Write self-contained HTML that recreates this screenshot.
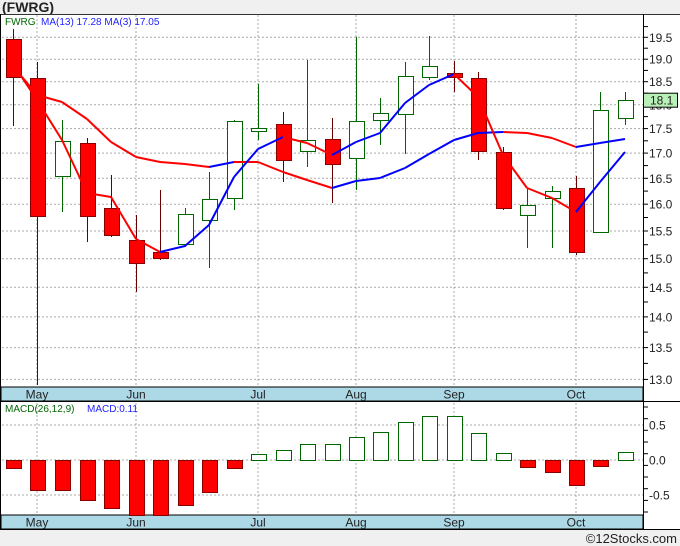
<!DOCTYPE html>
<html><head><meta charset="utf-8"><style>
html,body{margin:0;padding:0;background:#fff;}
svg{display:block;font-family:"Liberation Sans",sans-serif;}
</style></head><body>
<svg id="s" width="680" height="546" xmlns="http://www.w3.org/2000/svg">
<rect x="0" y="0" width="680" height="546" fill="#fff"/>
<rect x="0" y="0" width="680" height="14" fill="#f0f0f0"/>
<text x="2" y="12" font-size="14" font-weight="bold" fill="#222">(FWRG)</text>
<line x1="0" y1="14.5" x2="680" y2="14.5" stroke="#333"/>
<g id="g"></g>
<rect x="0" y="530" width="680" height="16" fill="#f0f0f0"/>
<text x="677" y="543" font-size="13" text-anchor="end" fill="#222">©12Stocks.com</text>
</svg>
<script>
var g=document.getElementById('g'),h='';
function Y(p){return 37.3+843.8*Math.log(19.5/p);}
var M=[37,136,258,356,454,576],MN=['May','Jun','Jul','Aug','Sep','Oct'];
// price grid
for(var p=13;p<=19.51;p+=0.5){var y=Y(p).toFixed(1);h+='<line x1="2" y1="'+y+'" x2="643" y2="'+y+'" stroke="#aaa" stroke-dasharray="2,2"/>';
h+='<text x="649" y="'+(+y+4.5)+'" font-size="12" fill="#222">'+p.toFixed(1)+'</text>';}
for(var p=13;p<=19.76;p+=0.25){var y=Y(p).toFixed(1);h+='<line x1="643" y1="'+y+'" x2="648" y2="'+y+'" stroke="#000"/>';}
// macd grid
[425,460,495].forEach(function(y,i){h+='<line x1="2" y1="'+y+'" x2="643" y2="'+y+'" stroke="#aaa" stroke-dasharray="2,2"/>';
h+='<text x="649" y="'+(y+4.5)+'" font-size="12" fill="#222">'+['0.5','0.0','-0.5'][i]+'</text>';});
for(var y=407;y<515;y+=11.67){h+='<line x1="643" y1="'+y.toFixed(1)+'" x2="648" y2="'+y.toFixed(1)+'" stroke="#000"/>';}
M.forEach(function(x){h+='<line x1="'+x+'" y1="15" x2="'+x+'" y2="528" stroke="#aaa" stroke-dasharray="2,2"/>';});
// strips
h+='<rect x="1" y="387" width="642" height="14" fill="#add8e6" stroke="#000"/>';
h+='<rect x="1" y="515" width="642" height="14" fill="#add8e6" stroke="#000"/>';
M.forEach(function(x,i){h+='<text x="'+x+'" y="398.5" font-size="12" text-anchor="middle" fill="#222">'+MN[i]+'</text><text x="'+x+'" y="526.5" font-size="12" text-anchor="middle" fill="#222">'+MN[i]+'</text>';});
var X=[13,37,62,87,111,136,160,185,209,234,258,283,307,332,356,380,405,429,454,478,503,527,552,576,600,625];
var C=[[0,39,77,29,126],[0,78,216,62,385],[1,141,176,120,212],[0,143,216,138,242],[0,208,235,175,237],[0,240,263,215,292],[0,252,258,190,260],[1,214,244,208,247],[1,199,220,172,268],[1,121,198,120,210],[1,128,131,84,140],[0,124,160,112,182],[1,140,151,60,167],[0,139,164,118,203],[1,121,158,37,190],[1,113,120,98,145],[1,76,114,62,154],[1,66,77,36,80],[0,73,77,61,92],[0,78,151,72,160],[0,152,208,147,210],[1,205,215,189,248],[1,191,198,186,248],[0,188,252,176,255],[1,110,232,92,232],[1,100,118,92,125]];
C.forEach(function(c,i){var x=X[i],col=c[0]?'#060':'#600';
h+='<line x1="'+(x+.5)+'" y1="'+c[3]+'" x2="'+(x+.5)+'" y2="'+Math.min(c[4],386)+'" stroke="'+col+'"/>';
h+='<rect x="'+(x-7)+'.5" y="'+c[1]+'.5" width="15" height="'+Math.max(c[2]-c[1],2)+'" fill="'+(c[0]?'#fff':'#f00')+'" stroke="'+(c[0]?'#060':'#800')+'"/>';});
function line(P){P.forEach(function(q,i){if(i==0)return;var a=P[i-1];h+='<line x1="'+a[0]+'" y1="'+a[1]+'" x2="'+q[0]+'" y2="'+q[1]+'" stroke="'+(q[1]<a[1]-0.5?'#00f':'#f00')+'" stroke-width="2"/>';});}
line([[13,66],[37,95],[62,102],[87,119],[111,142],[136,157],[160,162],[185,164],[209,167],[234,162],[258,162],[283,172],[307,180],[332,188],[356,181],[380,178],[405,168],[429,154],[454,140],[478,133],[503,132],[527,133],[552,138],[576,147],[600,143],[625,139]]);
line([[13,64],[37,100],[62,140],[87,193],[111,197],[136,239],[160,252],[185,246],[209,225],[234,177],[258,149],[283,137],[307,143],[332,155],[356,142],[380,133],[405,103],[429,85],[454,74],[478,97],[503,155],[527,188],[552,198],[576,212],[600,182],[625,152]]);
// macd bars
var B=[468,490,490,500,508,515,515,505,492,468,454,450,444,444,437,432,422,416,416,433,453,467,472,485,466,452];
B.forEach(function(b,i){var x=X[i],up=b<460,y0=up?b:460,hh=Math.abs(b-460);
h+='<rect x="'+(x-7)+'.5" y="'+y0+'.5" width="15" height="'+hh+'" fill="'+(up?'#fff':'#f00')+'" stroke="'+(up?'#060':'#800')+'"/>';});
// axes
h+='<line x1="643.5" y1="14" x2="643.5" y2="530" stroke="#000"/>';
h+='<line x1="0.5" y1="14" x2="0.5" y2="530" stroke="#000"/>';
h+='<line x1="0" y1="401.5" x2="680" y2="401.5" stroke="#000"/>';
h+='<line x1="0" y1="529.5" x2="680" y2="529.5" stroke="#000"/>';
// 18.1 label
var ly=Y(18.1);h+='<rect x="643.5" y="'+(ly-7).toFixed(1)+'" width="34" height="14" fill="#b8f0b8" stroke="#000"/><text x="650" y="'+(ly+4.5).toFixed(1)+'" font-size="12" fill="#222">18.1</text>';
h+='<text x="5" y="25" font-size="10" fill="#060">FWRG</text><text x="41" y="25" font-size="10" fill="#22f">MA(13)  17.28   MA(3)  17.05</text>';
h+='<text x="5" y="412" font-size="10" fill="#060">MACD(26,12,9)</text><text x="87" y="412" font-size="10" fill="#22f">MACD:0.11</text>';
g.innerHTML=h;
</script>
</body></html>
